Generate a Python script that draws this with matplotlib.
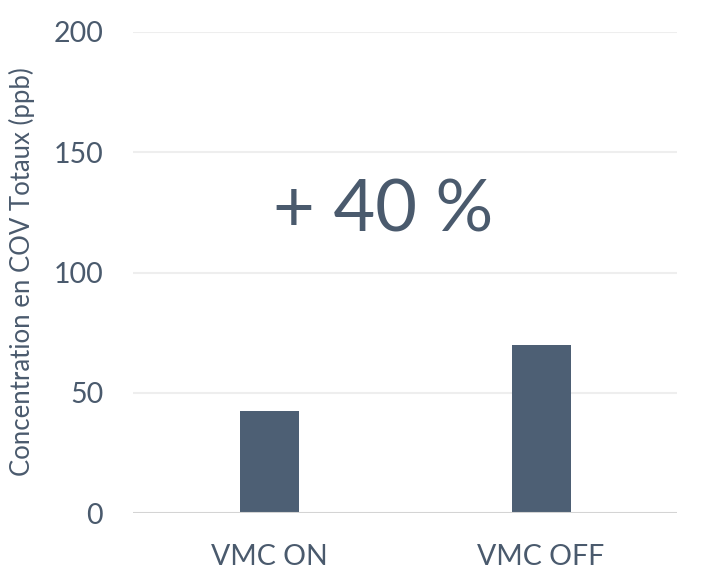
import matplotlib.pyplot as plt
import numpy as np

categories = ["VMC ON", "VMC OFF"]
values = [42.5, 70]
yticks = [0, 50, 100, 150, 200]
annotation = "+ 40 %"

txt_color = "#4a5a6d"
bar_color = "#4d5f74"

plt.rcParams["font.family"] = ["Lato", "DejaVu Sans"]

fig = plt.figure(figsize=(7.02, 5.87), dpi=100)
ax = fig.add_axes([0.1895, 0.126, 0.775, 0.8195])

x = np.arange(len(categories))
ax.bar(x, values, width=0.217, color=bar_color, zorder=3)

ax.set_xlim(-0.5, 1.5)
ax.set_ylim(0, 200)
ax.set_yticks(yticks)
ax.set_yticklabels([str(t) for t in yticks])
ax.set_xticks(x)
ax.set_xticklabels(categories)

ax.tick_params(axis="y", length=0, pad=21.5, labelsize=20.5, labelcolor=txt_color)
ax.tick_params(axis="x", length=0, pad=22, labelsize=20.5, labelcolor=txt_color)

for t in yticks[1:]:
    ax.axhline(t, color="#eeeeee", lw=1.5, zorder=1)
ax.axhline(0, color="#d4d4d4", lw=1.5, zorder=4)

for s in ax.spines.values():
    s.set_visible(False)

fig.text(22 / 702, 1 - 272 / 587, "Concentration en COV Totaux (ppb)", fontsize=18.5,
         color=txt_color, rotation=90, ha="center", va="center")

ax.text(0.42, 125.5, annotation, fontsize=52, color=txt_color, ha="center", va="center")

plt.savefig("out.png", dpi=100)
